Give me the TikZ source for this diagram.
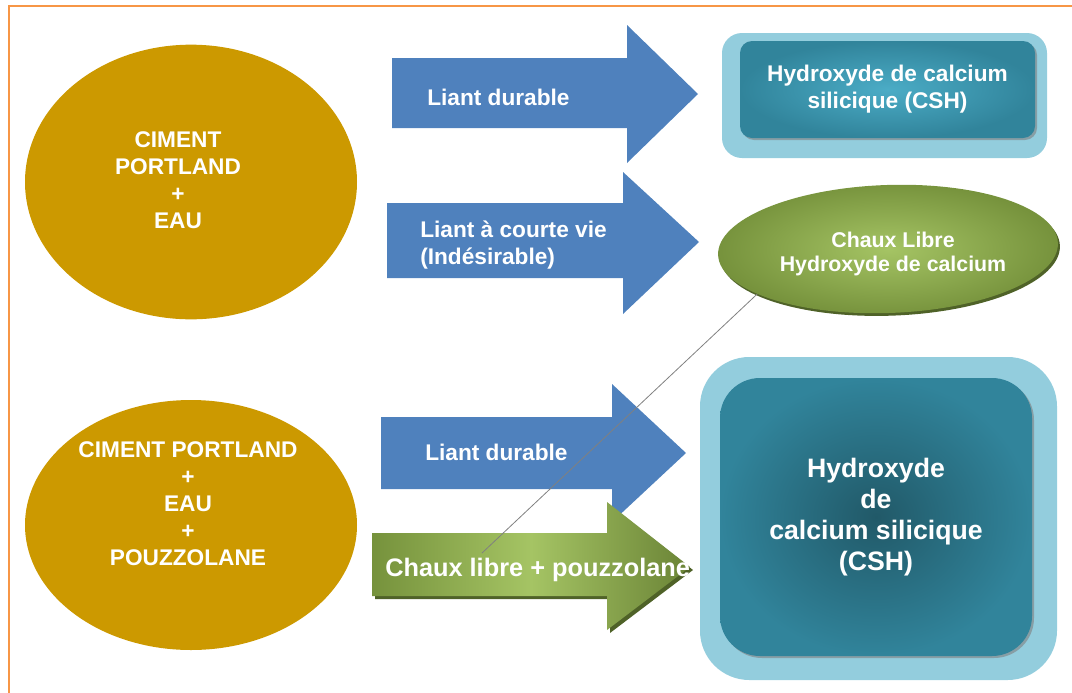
\documentclass[tikz,border=0pt]{standalone}
\usepackage{fontspec}
\setmainfont{Liberation Sans}
\usetikzlibrary{shapes.geometric,shadows}
\definecolor{bordure}{HTML}{F79646}
\definecolor{ciment}{HTML}{CC9900}
\definecolor{liant}{HTML}{4F81BD}
\definecolor{cadre}{HTML}{93CDDD}
\definecolor{csh}{HTML}{31849B}
\definecolor{cshclair}{HTML}{4BACC6}
\definecolor{cshfonce}{HTML}{215968}
\definecolor{chaux}{HTML}{76923C}
\definecolor{chauxclair}{HTML}{A5C464}
\definecolor{chauxombre}{HTML}{4F6228}

\begin{document}
\begin{tikzpicture}[x=0.75pt, y=-0.75pt,
    etiquette/.style={text=white, font=\bfseries\fontsize{17}{20.3}\selectfont, inner sep=0pt, align=center},
    ovale/.style={ellipse, fill=ciment, inner sep=0pt, minimum width=249pt},
    fleche/.style={fill=liant},
    ombre/.style={drop shadow={shadow xshift=1.5pt, shadow yshift=-1.5pt, opacity=0.6}}]
    \useasboundingbox (0,0) rectangle (1072,693);
    % cadre orange
    \draw[bordure, line width=1.5pt] (1072,6) -- (9,6) -- (9,693);

    % ciment seul
    \node[ovale, minimum height=206pt] (cimentA) at (191,182) {};
    \node[etiquette] (txtcimentA) at (178,180) {CIMENT\\PORTLAND\\+\\EAU};

    % ciment avec pouzzolane
    \node[ovale, minimum height=187.5pt] (cimentB) at (191,525) {};
    \node[etiquette] (txtcimentB) at (188,504) {CIMENT PORTLAND\\+\\EAU\\+\\POUZZOLANE};

    % fleches bleues
    \fill[fleche] (392,58) -- (627,58) -- (627,25) -- (698,94) -- (627,163) -- (627,128) -- (392,128) -- cycle;
    \node[etiquette, anchor=west] (txtliantA) at (427,97) {Liant durable};
    \fill[fleche] (387,203) -- (623,203) -- (623,172) -- (699,242) -- (623,314) -- (623,278) -- (387,278) -- cycle;
    \node[etiquette, anchor=west, align=left] (txtliantB) at (420,245) {Liant à courte vie\\(Indésirable)};
    \fill[fleche] (381,417) -- (612,417) -- (612,384) -- (686,453) -- (612,522) -- (612,489) -- (381,489) -- cycle;
    \node[etiquette, anchor=west] (txtliantC) at (425,452) {Liant durable};

    % fleche verte
    \fill[chauxombre] (375,536) -- (610,536) -- (610,505) -- (693,570) -- (610,633) -- (610,599) -- (375,599) -- cycle;
    \shade[left color=chaux, right color=chaux!90!black, middle color=chauxclair] (372,533) -- (607,533) -- (607,502) -- (690,567) -- (607,630) -- (607,596) -- (372,596) -- cycle;
    \node[etiquette, anchor=west, font=\bfseries\fontsize{19}{22}\selectfont] (txtchauxfleche) at (385,570) {Chaux libre + pouzzolane};

    % CSH en haut
    \node[rectangle, rounded corners=15pt, fill=cadre, minimum width=243.75pt, minimum height=93.75pt] (cadreA) at (884.5,95.5) {};
    \node[rectangle, rounded corners=9pt, inner color=cshclair, outer color=csh, ombre,
        minimum width=221.25pt, minimum height=72.75pt, etiquette] (cshA) at (887.5,89.5) {Hydroxyde de calcium\\silicique (CSH)};

    % chaux libre
    \node[ellipse, rotate=2, inner color=chauxclair, outer color=chaux, inner sep=0pt,
        drop shadow={shadow xshift=1.5pt, shadow yshift=-2pt, fill=chauxombre, opacity=1},
        minimum width=255pt, minimum height=96pt] (chaux) at (888,249) {};
    \node[etiquette, font=\bfseries\fontsize{16}{18.5}\selectfont] (txtchaux) at (893,254) {Chaux Libre\\Hydroxyde de calcium};

    % CSH en bas
    \node[rectangle, rounded corners=37pt, fill=cadre, minimum width=267.75pt, minimum height=242.25pt] (cadreB) at (878.5,518.5) {};
    \node[rectangle, rounded corners=30pt, inner color=cshfonce, outer color=csh, ombre,
        minimum width=234pt, minimum height=208.5pt, etiquette, font=\bfseries\fontsize{20}{23.3}\selectfont] (cshB) at (876,517) {Hydroxyde\\de\\calcium silicique\\(CSH)};

    % trait de rappel
    \coordinate (finligne) at (482,553);
    \draw[gray, line width=0.6pt] (chaux.197) -- (finligne);
\end{tikzpicture}
\end{document}
